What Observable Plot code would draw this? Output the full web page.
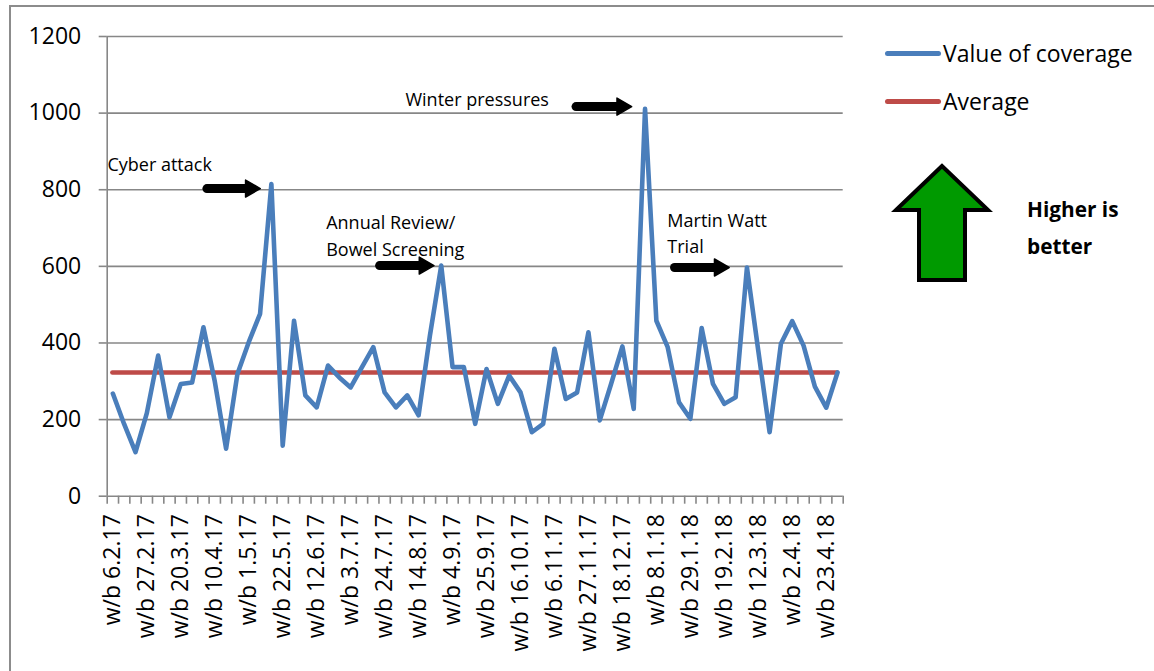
<!DOCTYPE html>
<html>
<head>
<meta charset="utf-8">
<script src="https://cdn.jsdelivr.net/npm/d3@7"></script>
<script src="https://cdn.jsdelivr.net/npm/@observablehq/plot@0.6"></script>
<style>
  html, body { margin: 0; padding: 0; background: #fff; }
  #wrap { position: relative; width: 1154px; height: 671px; overflow: hidden; font-family: "Open Sans", sans-serif; }
  #frame { position: absolute; left: 9px; top: 5px; right: -10px; bottom: -10px; border-left: 2px solid #8c8c8c; border-top: 2px solid #8c8c8c; pointer-events: none; }
  #chart { position: absolute; left: 0; top: 0; }
  .leg { position: absolute; display: flex; align-items: center; font-size: 23px; color: #000; }
  .leg .sw { width: 56px; height: 5px; border-radius: 3px; margin-right: 2px; }
  #better { position: absolute; left: 1027px; top: 191px; font-weight: bold; font-size: 20.8px; line-height: 37px; color: #000; }
  #garrow { position: absolute; left: 0; top: 0; pointer-events: none; }
</style>
</head>
<body>
<div id="wrap">
  <div id="chart"></div>
  <div id="frame"></div>
  <div class="leg" style="left:885px; top:37px;"><div class="sw" style="background:#4a7ebb"></div><span>Value of coverage</span></div>
  <div class="leg" style="left:885px; top:85px;"><div class="sw" style="background:#be4b48"></div><span>Average</span></div>
  <svg id="garrow" width="1154" height="671">
    <polygon points="942,166 896,210 919,210 919,280 965,280 965,210 988,210" fill="#009a00" stroke="#000" stroke-width="4" stroke-linejoin="miter"/>
  </svg>
  <div id="better">Higher is<br>better</div>
</div>
<script>
// Week commencing labels (one per weekly point)
const weeks = [
  "w/b 6.2.17","w/b 13.2.17","w/b 20.2.17","w/b 27.2.17","w/b 6.3.17","w/b 13.3.17","w/b 20.3.17","w/b 27.3.17",
  "w/b 3.4.17","w/b 10.4.17","w/b 17.4.17","w/b 24.4.17","w/b 1.5.17","w/b 8.5.17","w/b 15.5.17","w/b 22.5.17",
  "w/b 29.5.17","w/b 5.6.17","w/b 12.6.17","w/b 19.6.17","w/b 26.6.17","w/b 3.7.17","w/b 10.7.17","w/b 17.7.17",
  "w/b 24.7.17","w/b 31.7.17","w/b 7.8.17","w/b 14.8.17","w/b 21.8.17","w/b 28.8.17","w/b 4.9.17","w/b 11.9.17",
  "w/b 18.9.17","w/b 25.9.17","w/b 2.10.17","w/b 9.10.17","w/b 16.10.17","w/b 23.10.17","w/b 30.10.17","w/b 6.11.17",
  "w/b 13.11.17","w/b 20.11.17","w/b 27.11.17","w/b 4.12.17","w/b 11.12.17","w/b 18.12.17","w/b 25.12.17","w/b 1.1.18",
  "w/b 8.1.18","w/b 15.1.18","w/b 22.1.18","w/b 29.1.18","w/b 5.2.18","w/b 12.2.18","w/b 19.2.18","w/b 26.2.18",
  "w/b 5.3.18","w/b 12.3.18","w/b 19.3.18","w/b 26.3.18","w/b 2.4.18","w/b 9.4.18","w/b 16.4.18","w/b 23.4.18",
  "w/b 30.4.18"
];
// Value of coverage
const coverage = [
  268, 188, 115, 217, 367, 206, 293, 297, 441, 300,
  124, 319, 402, 476, 815, 132, 458, 263, 232, 341,
  310, 284, 337, 389, 271, 232, 263, 211, 419, 602,
  337, 337, 189, 332, 241, 315, 271, 167, 189, 385,
  254, 271, 428, 198, 293, 391, 228, 1011, 458, 389,
  245, 202, 439, 293, 241, 258, 597, 380, 167, 398,
  457, 393, 286, 231, 323
];
const average = 323;
// Labelled category ticks (every third week)
const tickLabels = ["w/b 6.2.17","w/b 27.2.17","w/b 20.3.17","w/b 10.4.17","w/b 1.5.17","w/b 22.5.17","w/b 12.6.17",
  "w/b 3.7.17","w/b 24.7.17","w/b 14.8.17","w/b 4.9.17","w/b 25.9.17","w/b 16.10.17","w/b 6.11.17","w/b 27.11.17",
  "w/b 18.12.17","w/b 8.1.18","w/b 29.1.18","w/b 19.2.18","w/b 12.3.18","w/b 2.4.18","w/b 23.4.18"];
const yTicks = [0, 200, 400, 600, 800, 1000, 1200];
// Annotations (week position, value)
const noteText = ["Cyber attack", "Annual Review/\nBowel Screening", "Winter pressures", "Martin Watt\nTrial"];
const noteWeek = [-0.48, 18.84, 25.84, 48.97];
const noteValue = [872, 685, 1040, 691];
const arrowFrom = [9.1, 24.35, 41.7, 50.4];
const arrowTo = [12.86, 28.2, 45.66, 54.27];
const arrowValue = [803, 602, 1017, 597];

const idx = weeks.map((_, i) => i);
const series = idx.map(i => ({i, v: coverage[i]}));
const notes = noteText.map((t, k) => ({t, x: noteWeek[k], y: noteValue[k]}));
const arrows = arrowFrom.map((a, k) => ({x1: a, x2: arrowTo[k], y: arrowValue[k]}));
const boundaries = d3.range(weeks.length + 1).map(k => k - 0.5);
const labelIdx = tickLabels.map(l => weeks.indexOf(l));

const grid = "#878787";
const chart = Plot.plot({
  width: 1154,
  height: 671,
  marginLeft: 106.7,
  marginRight: 311.3,
  marginTop: 36,
  marginBottom: 175.3,
  style: {fontFamily: "Open Sans", fontSize: "23px", color: "#000", background: "transparent"},
  x: {type: "linear", domain: [-0.5, weeks.length - 0.5]},
  y: {domain: [0, 1200]},
  marks: [
    Plot.ruleY(yTicks, {stroke: grid, strokeWidth: 1.6}),
    Plot.ruleX([-0.5], {stroke: grid, strokeWidth: 1.6}),
    Plot.axisY({ticks: yTicks, tickSize: 8, tickPadding: 18, tickFormat: d => String(d), stroke: grid, strokeWidth: 1.6, fill: "#000", fontSize: 23, label: null}),
    Plot.axisX({ticks: boundaries, tickSize: 8, tickFormat: () => "", stroke: grid, strokeWidth: 1.6, label: null}),
    Plot.axisX({ticks: labelIdx, tickSize: 0, tickPadding: 18, tickRotate: -90, tickFormat: i => weeks[i], fill: "#000", fontSize: 23, label: null}),
    Plot.ruleY([average], {x1: 0, x2: weeks.length - 1, stroke: "#be4b48", strokeWidth: 4.5, strokeLinecap: "round"}),
    Plot.line(series, {x: "i", y: "v", stroke: "#4a7ebb", strokeWidth: 4.6, strokeLinejoin: "round", strokeLinecap: "round"}),
    // block arrows: body, rounded tail, triangular head
    Plot.link(arrows, {x1: "x1", x2: "x2", y1: "y", y2: "y", stroke: "#000", strokeWidth: 9, strokeLinecap: "butt", dx: -9}),
    Plot.dot(arrows, {x: "x1", y: "y", r: 4.5, fill: "#000", dx: -9}),
    Plot.dot(arrows, {x: "x2", y: "y", symbol: "triangle", rotate: 90, r: 6.3, fill: "#000", stroke: "#000", strokeWidth: 1.5, strokeLinejoin: "round", dx: -8}),
    Plot.text(notes, {x: "x", y: "y", text: "t", textAnchor: "start", fontSize: 18, lineHeight: 1.48, fill: "#000"})
  ]
});
document.getElementById("chart").appendChild(chart);
</script>
</body>
</html>
